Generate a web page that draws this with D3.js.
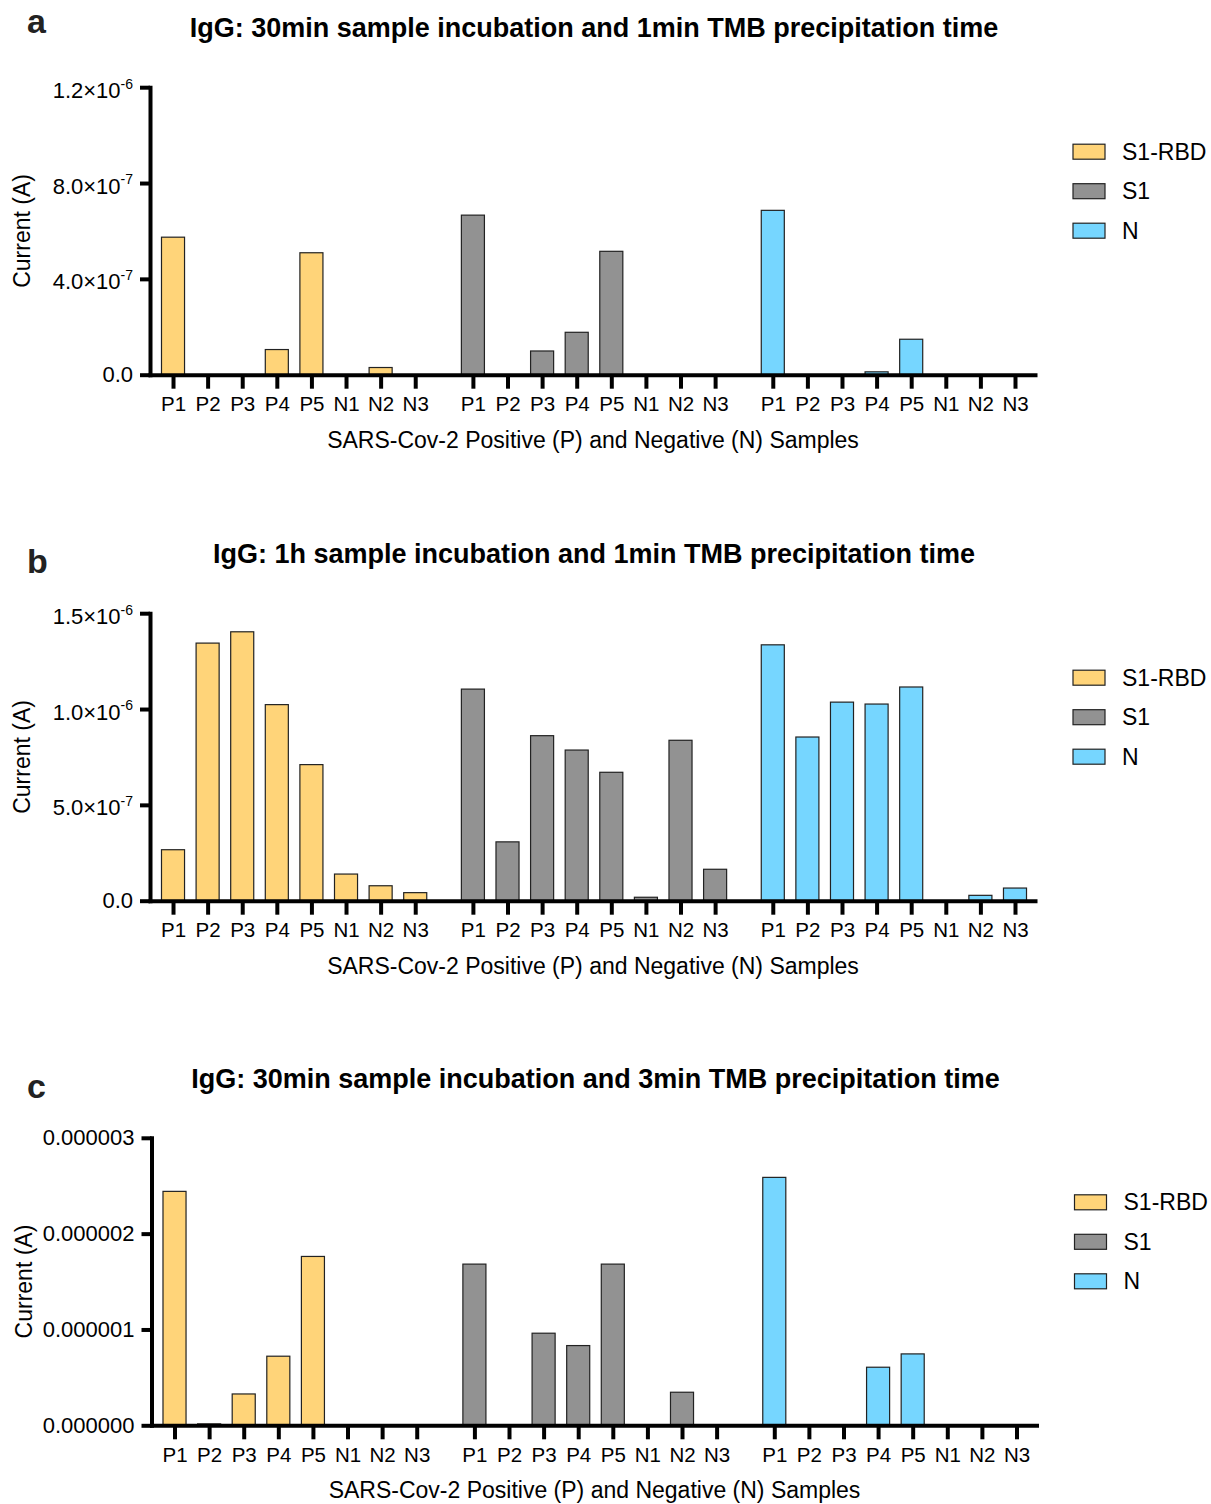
<!DOCTYPE html>
<html>
<head>
<meta charset="utf-8">
<script src="https://cdn.jsdelivr.net/npm/d3@7"></script>
<style>
body { margin: 0; background: #fff; }
text { font-family: "Liberation Sans", Arial, Helvetica, sans-serif; }
</style>
</head>
<body>
<script>
// samples and antigens
var samples = ["P1", "P2", "P3", "P4", "P5", "N1", "N2", "N3"];
var antigens = ["S1-RBD", "S1", "N"];

// a: 30min incubation, 1min TMB
var aRBD = [5.74e-7, 0, 0, 1.05e-7, 5.09e-7, 0, 3.0e-8, 0];
var aS1  = [6.66e-7, 0, 9.9e-8, 1.77e-7, 5.15e-7, 0, 0, 0];
var aN   = [6.86e-7, 0, 0, 1.2e-8, 1.48e-7, 0, 0, 0];
var aTicks = [0, 4e-7, 8e-7, 1.2e-6];
var aTickText = ["0.0", "4.0×10", "8.0×10", "1.2×10"];
var aTickExp  = ["", "-7", "-7", "-6"];

// b: 1h incubation, 1min TMB
var bRBD = [2.66e-7, 1.344e-6, 1.403e-6, 1.023e-6, 7.10e-7, 1.39e-7, 7.8e-8, 4.2e-8];
var bS1  = [1.104e-6, 3.07e-7, 8.61e-7, 7.86e-7, 6.70e-7, 1.8e-8, 8.37e-7, 1.64e-7];
var bN   = [1.335e-6, 8.54e-7, 1.036e-6, 1.026e-6, 1.115e-6, 0, 2.8e-8, 6.6e-8];
var bTicks = [0, 5e-7, 1e-6, 1.5e-6];
var bTickText = ["0.0", "5.0×10", "1.0×10", "1.5×10"];
var bTickExp  = ["", "-7", "-6", "-6"];

// c: 30min incubation, 3min TMB
var cRBD = [2.441e-6, 1.5e-8, 3.27e-7, 7.21e-7, 1.762e-6, 0, 0, 0];
var cS1  = [1.682e-6, 0, 9.61e-7, 8.32e-7, 1.682e-6, 0, 3.45e-7, 0];
var cN   = [2.587e-6, 0, 0, 6.06e-7, 7.45e-7, 0, 0, 0];
var cTicks = [0, 1e-6, 2e-6, 3e-6];
var cTickText = ["0.000000", "0.000001", "0.000002", "0.000003"];
var cTickExp  = ["", "", "", ""];

var titles = [
	"IgG: 30min sample incubation and 1min TMB precipitation time",
	"IgG: 1h sample incubation and 1min TMB precipitation time",
	"IgG: 30min sample incubation and 3min TMB precipitation time"
];
var xTitle = "SARS-Cov-2 Positive (P) and Negative (N) Samples";
var yTitle = "Current (A)";

var fills = ["#FFD479", "#929292", "#76D6FF"];
var W = 1211, H = 1504;
var axisLen = 287.5;
var groupGap = 8.667; // slots from one group's P1 to the next

var svg = d3.select("body").append("svg")
	.attr("width", W)
	.attr("height", H);
svg.append("rect").attr("width", W).attr("height", H).attr("fill", "#fff");

var panels = [
	{ label: "a", title: titles[0], series: [aRBD, aS1, aN], ticks: aTicks, tickText: aTickText, tickExp: aTickExp, base: 374.7, labelY: 33, dx: 0 },
	{ label: "b", title: titles[1], series: [bRBD, bS1, bN], ticks: bTicks, tickText: bTickText, tickExp: bTickExp, base: 900.7, labelY: 573, dx: 0 },
	{ label: "c", title: titles[2], series: [cRBD, cS1, cN], ticks: cTicks, tickText: cTickText, tickExp: cTickExp, base: 1425.3, labelY: 1098, dx: 1.5 }
];

function slot(g, i) { return g * groupGap + i; }

panels.forEach(function (p) {
	var g = svg.append("g").attr("transform", "translate(" + p.dx + ",0)");

	var y = d3.scaleLinear()
		.domain([0, p.ticks[p.ticks.length - 1]])
		.range([p.base, p.base - axisLen]);
	var x = d3.scaleLinear()
		.domain([-0.723, 24.97])
		.range([148, 1037]);

	// bars
	var bars = [];
	p.series.forEach(function (s, k) {
		s.forEach(function (v, i) { bars.push({ k: k, i: i, v: v }); });
	});
	var half = 0.333;
	g.append("g").selectAll("rect")
		.data(bars.filter(function (d) { return d.v > 0; }))
		.enter().append("rect")
		.attr("x", function (d) { return x(slot(d.k, d.i) - half); })
		.attr("width", x(half) - x(-half))
		.attr("y", function (d) { return y(d.v); })
		.attr("height", function (d) { return y(0) - y(d.v); })
		.attr("fill", function (d) { return fills[d.k]; })
		.attr("stroke", "#222")
		.attr("stroke-width", 1.2);

	// x axis
	var pos = [];
	for (var k = 0; k < antigens.length; k++)
		for (var i = 0; i < samples.length; i++) pos.push(slot(k, i));
	var xAxis = g.append("g")
		.attr("transform", "translate(0," + p.base + ")")
		.call(d3.axisBottom(x)
			.tickValues(pos)
			.tickFormat(function (d, j) { return samples[j % samples.length]; })
			.tickSize(14).tickSizeOuter(0).tickPadding(8));
	xAxis.attr("font-size", 20.5);
	xAxis.select(".domain").attr("stroke-width", 4);
	xAxis.selectAll(".tick line").attr("stroke-width", 4);

	// y axis
	var yAxis = g.append("g")
		.attr("transform", "translate(150,0)")
		.call(d3.axisLeft(y)
			.tickValues(p.ticks)
			.tickSize(10).tickSizeOuter(0).tickPadding(7));
	yAxis.attr("font-size", 22);
	yAxis.select(".domain").attr("stroke-width", 4).attr("stroke-linecap", "square");
	yAxis.selectAll(".tick line").attr("stroke-width", 4);
	yAxis.selectAll(".tick text").each(function (d, j) {
		var t = d3.select(this);
		t.text(null);
		t.append("tspan").text(p.tickText[j]);
		if (p.tickExp[j]) {
			t.attr("y", 3);
			t.append("tspan").attr("dy", "-0.65em").attr("font-size", 14).text(p.tickExp[j]);
		}
	});

	// titles
	g.append("text")
		.attr("x", 594).attr("y", p.base - 337.5)
		.attr("text-anchor", "middle")
		.attr("font-size", 27).attr("font-weight", "bold")
		.text(p.title);
	svg.append("text")
		.attr("x", 27).attr("y", p.labelY)
		.attr("font-size", 34).attr("font-weight", "bold")
		.attr("fill", "#222")
		.text(p.label);
	g.append("text")
		.attr("x", 593).attr("y", p.base + 73)
		.attr("text-anchor", "middle")
		.attr("font-size", 23)
		.text(xTitle);
	g.append("text")
		.attr("transform", "translate(30," + (p.base - axisLen / 2) + ") rotate(-90)")
		.attr("text-anchor", "middle")
		.attr("font-size", 23)
		.text(yTitle);

	// legend
	var leg = g.append("g").selectAll("g")
		.data(antigens)
		.enter().append("g")
		.attr("transform", function (d, j) { return "translate(1073," + (p.base - 223 + j * 39.5) + ")"; });
	leg.append("rect")
		.attr("x", 0).attr("y", -7.5)
		.attr("width", 32).attr("height", 15)
		.attr("fill", function (d, j) { return fills[j]; })
		.attr("stroke", "#222").attr("stroke-width", 1.2);
	leg.append("text")
		.attr("x", 49).attr("y", 8)
		.attr("font-size", 23)
		.text(function (d) { return d; });
});
</script>
</body>
</html>
